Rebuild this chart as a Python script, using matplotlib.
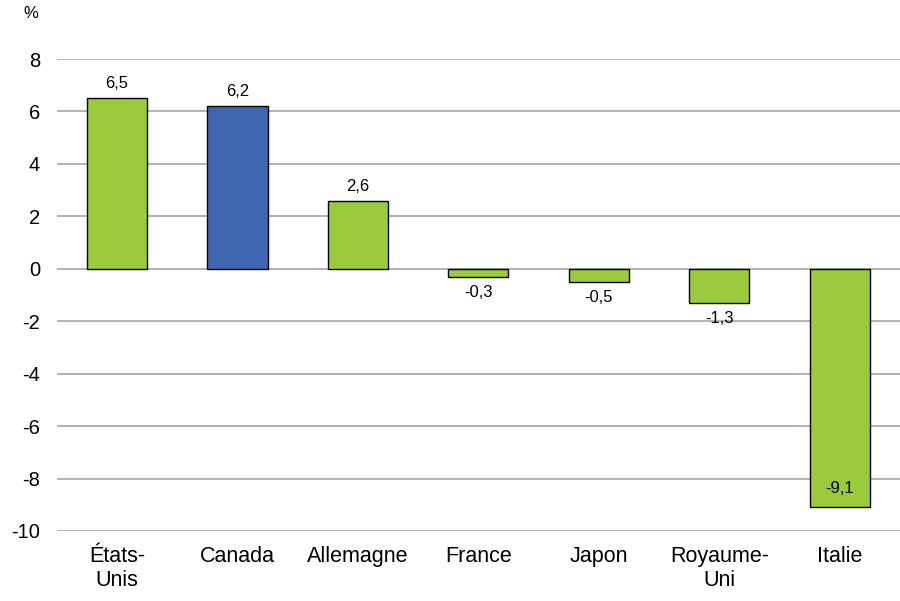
import matplotlib
matplotlib.use("Agg")
import matplotlib.pyplot as plt

plt.rcParams['font.family'] = ['Liberation Sans', 'DejaVu Sans']

categories = ["États-\nUnis", "Canada", "Allemagne", "France", "Japon", "Royaume-\nUni", "Italie"]
values = [6.5, 6.2, 2.6, -0.3, -0.5, -1.3, -9.1]
labels = ["6,5", "6,2", "2,6", "-0,3", "-0,5", "-1,3", "-9,1"]
yticks = [8, 6, 4, 2, 0, -2, -4, -6, -8, -10]

green = "#9BCB3C"
blue = "#4166B0"
colors = [blue if c == "Canada" else green for c in categories]

fig = plt.figure(figsize=(9, 6.01), dpi=100)
ax = fig.add_axes([0.063, 0.1165, 0.937, 0.7853])

x = range(len(categories))
ax.bar(x, values, width=0.5, color=colors, edgecolor="black", linewidth=1, zorder=3)

ax.set_xlim(-0.5, len(categories) - 0.5)
ax.set_ylim(-10, 8)
ax.set_yticks(yticks)
ax.set_yticklabels([str(t) for t in yticks], fontsize=14.5)
ax.yaxis.grid(True, color="#A6A6A6", linewidth=1.2, zorder=0)
ax.set_xticks(list(x))
ax.set_xticklabels(categories, fontsize=15.5, linespacing=1.15)
ax.tick_params(axis="both", length=0)
ax.tick_params(axis="x", pad=11)
ax.tick_params(axis="y", pad=12)
for s in ax.spines.values():
    s.set_visible(False)

# étiquettes de valeur
for i, (v, lab) in enumerate(zip(values, labels)):
    if v < -5:
        # à l'intérieur de la barre, près du bas
        ax.annotate(lab, (i, v), xytext=(0, 8), textcoords="offset points",
                    ha="center", va="bottom", fontsize=12)
    elif v >= 0:
        ax.annotate(lab, (i, v), xytext=(0, 5), textcoords="offset points",
                    ha="center", va="bottom", fontsize=12)
    else:
        ax.annotate(lab, (i, v), xytext=(0, -6), textcoords="offset points",
                    ha="center", va="top", fontsize=12)

fig.text(31 / 900, 1 - 14 / 601, "%", fontsize=12, ha="center", va="center")

fig.savefig("out.png", dpi=100)
